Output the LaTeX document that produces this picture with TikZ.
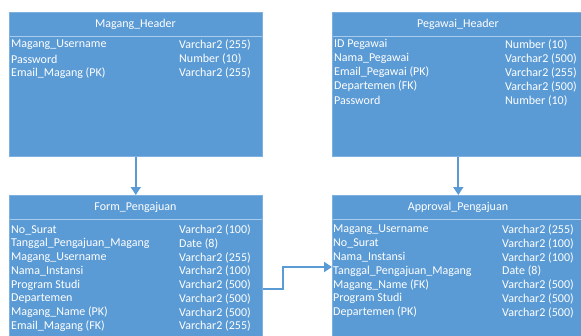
\documentclass[tikz,border=0pt]{standalone}
\usepackage{fontspec}
\setmainfont{Carlito}
\usetikzlibrary{arrows.meta}
\definecolor{boxblue}{HTML}{5B9BD5}
\definecolor{edgeblue}{HTML}{7FB1E0}
\definecolor{sepblue}{HTML}{A9CCEC}
\tikzset{
  tbl/.style={rectangle, fill=boxblue, draw=edgeblue, line width=0.6pt, anchor=north west, inner sep=0pt},
  ttl/.style={text=white, font=\fontsize{12}{13}\selectfont, inner sep=0pt},
  fld/.style={text=white, font=\fontsize{12}{13}\selectfont, anchor=west, inner sep=0pt},
  sep/.style={draw=sepblue, line width=0.8pt},
  conn/.style={draw=boxblue, line width=1.8pt, -{Triangle[width=10pt,length=8pt]}}
}
\begin{document}
\begin{tikzpicture}[x=1pt,y=-1pt]
\clip (0,0) rectangle (581,335);
\fill[white] (0,0) rectangle (581,335);
% boxes
\node[tbl, minimum width=253pt, minimum height=144pt] (mh) at (9,12) {};
\node[tbl, minimum width=252pt, minimum height=144pt] (ph) at (332,12) {};
\node[tbl, minimum width=253pt, minimum height=150pt] (fp) at (9,195) {};
\node[tbl, minimum width=252pt, minimum height=150pt] (ap) at (332,195) {};
% separators
\draw[sep] (9.5,36) -- (261.5,36);
\draw[sep] (332.5,36) -- (583.5,36);
\draw[sep] (9.5,219) -- (261.5,219);
\draw[sep] (332.5,219) -- (583.5,219);
% titles
\node[ttl] (mht) at (135.5,24.5) {Magang\_Header};
\node[ttl] (pht) at (458,24.5) {Pegawai\_Header};
\node[ttl] (fpt) at (135.5,207.5) {Form\_Pengajuan};
\node[ttl] (apt) at (458,207.5) {Approval\_Pengajuan};
% Magang_Header fields
\foreach \n/\t [count=\i from 0] in {Magang\_Username/Varchar2 (255), Password/Number (10), Email\_Magang (PK)/Varchar2 (255)} {
  \node[fld] (mhf\i) at (11,45+14.2*\i) {\n};
  \node[fld] (mht\i) at (179,45+14.2*\i) {\t};
}
% Pegawai_Header fields
\foreach \n/\t [count=\i from 0] in {ID Pegawai/Number (10), Nama\_Pegawai/Varchar2 (500), Email\_Pegawai (PK)/Varchar2 (255), Departemen (FK)/Varchar2 (500), Password/Number (10)} {
  \node[fld] (phf\i) at (334,44.5+14*\i) {\n};
  \node[fld] (pht\i) at (505,44.5+14*\i) {\t};
}
% Form_Pengajuan fields
\foreach \n/\t [count=\i from 0] in {No\_Surat/Varchar2 (100), Tanggal\_Pengajuan\_Magang/Date (8), Magang\_Username/Varchar2 (255), Nama\_Instansi/Varchar2 (100), Program Studi/Varchar2 (500), Departemen/Varchar2 (500), Magang\_Name (PK)/Varchar2 (500), Email\_Magang (FK)/Varchar2 (255)} {
  \node[fld] (fpf\i) at (11,230+13.75*\i) {\n};
  \node[fld] (fpt\i) at (179,230+13.75*\i) {\t};
}
% Approval_Pengajuan fields
\foreach \n/\t [count=\i from 0] in {Magang\_Username/Varchar2 (255), No\_Surat/Varchar2 (100), Nama\_Instansi/Varchar2 (100), Tanggal\_Pengajuan\_Magang/Date (8), Magang\_Name (FK)/Varchar2 (500), Program Studi/Varchar2 (500), Departemen (PK)/Varchar2 (500)} {
  \node[fld] (apf\i) at (333,230+13.75*\i) {\n};
  \node[fld] (apt\i) at (502,230+13.75*\i) {\t};
}
% connectors
\draw[conn] (mh.south) -- (fp.north);
\draw[conn] (ph.south) -- (ap.north);
\coordinate (bend) at (283,289);
\draw[conn] (fp.east |- bend) -- (bend) |- (ap.west |- 0,267);
\end{tikzpicture}
\end{document}
